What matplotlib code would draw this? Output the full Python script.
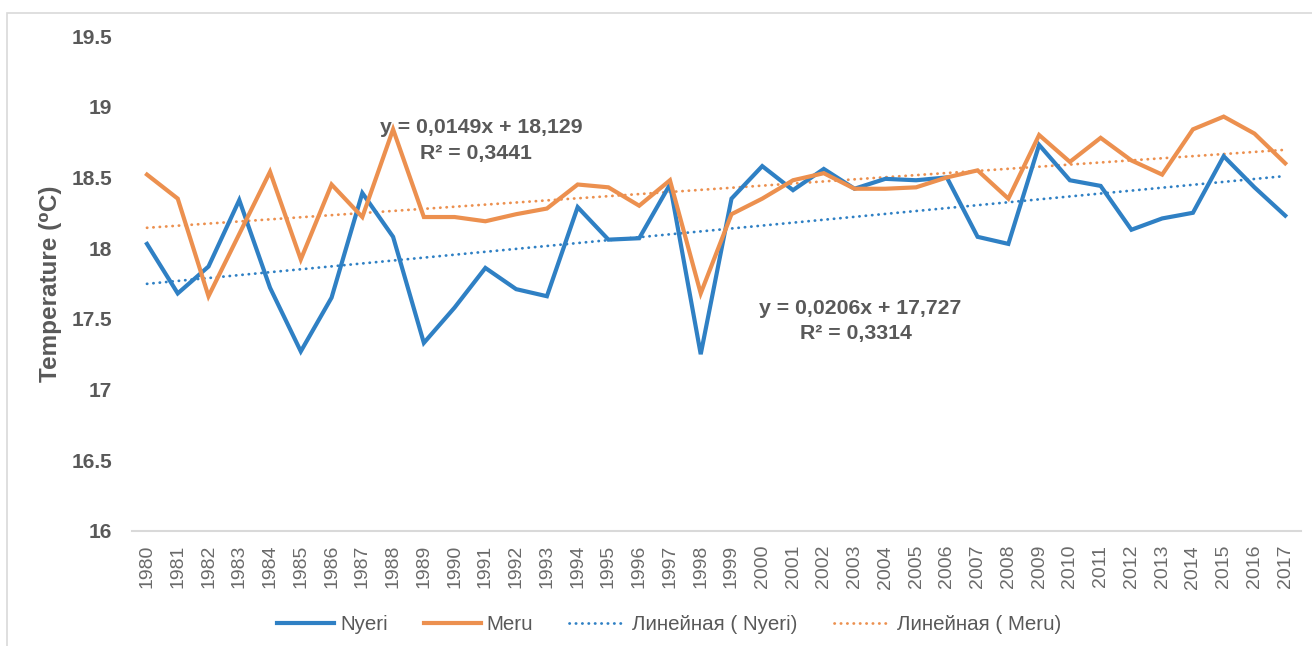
import numpy as np
import matplotlib as mpl
mpl.use('Agg')
import matplotlib.pyplot as plt
from matplotlib.patches import Rectangle

plt.rcParams['font.family'] = ['Liberation Sans', 'DejaVu Sans']

years = list(range(1980, 2018))

nyeri = [18.03, 17.68, 17.87, 18.34, 17.72, 17.27, 17.65, 18.39, 18.08, 17.33,
         17.58, 17.86, 17.71, 17.66, 18.29, 18.06, 18.07, 18.45, 17.25, 18.35,
         18.58, 18.41, 18.56, 18.42, 18.49, 18.48, 18.50, 18.08, 18.03, 18.73,
         18.48, 18.44, 18.13, 18.21, 18.25, 18.65, 18.43, 18.23]

meru = [18.52, 18.35, 17.66, 18.10, 18.54, 17.92, 18.45, 18.22, 18.84, 18.22,
        18.22, 18.19, 18.24, 18.28, 18.45, 18.43, 18.30, 18.48, 17.68, 18.24,
        18.35, 18.48, 18.53, 18.42, 18.42, 18.43, 18.50, 18.55, 18.35, 18.80,
        18.61, 18.78, 18.62, 18.52, 18.84, 18.93, 18.81, 18.60]

# Excel linear trendlines (x = 1..38)
nyeri_slope, nyeri_icept, nyeri_r2 = 0.0206, 17.727, 0.3314
meru_slope, meru_icept, meru_r2 = 0.0149, 18.129, 0.3441

blue = '#2F80C4'
orange = '#EC904F'
txt = '#595959'

fig = plt.figure(figsize=(13.12, 6.46), dpi=100)
fig.patches.append(Rectangle((7 / 1312, -0.02), 1.1, 0.02 + 1 - 13 / 646,
                             transform=fig.transFigure, fill=False,
                             edgecolor='#D9D9D9', linewidth=1.2))

ax = fig.add_axes([131.6 / 1312, 1 - 531 / 646, 1169 / 1312, 495 / 646])

idx = np.arange(len(years))
xs = idx + 1

ax.plot(idx, nyeri, color=blue, lw=3, solid_joinstyle='miter', label='Nyeri', zorder=3)
ax.plot(idx, meru, color=orange, lw=3, solid_joinstyle='miter', label='Meru', zorder=3)
ax.plot(idx, nyeri_slope * xs + nyeri_icept, color=blue, lw=2,
        linestyle=(0, (0.1, 2.2)), dash_capstyle='round', label='Линейная ( Nyeri)')
ax.plot(idx, meru_slope * xs + meru_icept, color=orange, lw=2,
        linestyle=(0, (0.1, 2.2)), dash_capstyle='round', label='Линейная ( Meru)')

ax.set_xlim(-0.5, 37.5)
ax.set_ylim(16, 19.5)
ax.set_yticks(np.arange(16, 19.51, 0.5))
ax.set_yticklabels(['16', '16.5', '17', '17.5', '18', '18.5', '19', '19.5'])
ax.set_xticks(idx)
ax.set_xticklabels([str(y) for y in years], rotation=90)

for s in ['top', 'right', 'left']:
    ax.spines[s].set_visible(False)
ax.spines['bottom'].set_color('#D9D9D9')
ax.spines['bottom'].set_linewidth(1.5)
ax.tick_params(axis='y', length=0, pad=14, labelsize=15, labelcolor=txt)
ax.tick_params(axis='x', length=0, pad=10, labelsize=14, labelcolor='#6A6A6A')
for lab in ax.get_yticklabels():
    lab.set_fontweight('bold')

ax.set_ylabel('Temperature (⁰C)', fontsize=17.5, fontweight='bold', color=txt)
ax.yaxis.set_label_coords(-0.0595, 0.5)

# trendline equations
def ax_pos(px, py):
    return (px - 131.6) / 1169, (531 - py) / 495

eq_style = dict(transform=ax.transAxes, ha='center', va='center',
                fontsize=15.3, fontweight='bold', color=txt)
ax.text(*ax_pos(481, 127), 'y = 0,0149x + 18,129', **eq_style)
ax.text(*ax_pos(476, 153), 'R² = ' + f'{meru_r2:.4f}'.replace('.', ','), **eq_style)
ax.text(*ax_pos(860, 308), 'y = 0,0206x + 17,727', **eq_style)
ax.text(*ax_pos(856, 333), 'R² = ' + f'{nyeri_r2:.4f}'.replace('.', ','), **eq_style)

leg = fig.legend(loc='center', bbox_to_anchor=(669 / 1312, 1 - 625 / 646), ncol=4,
                 frameon=False, fontsize=14.8, handlelength=2.77,
                 handletextpad=0.3, columnspacing=1.75, labelcolor=txt)

fig.savefig('out.png', dpi=100)
